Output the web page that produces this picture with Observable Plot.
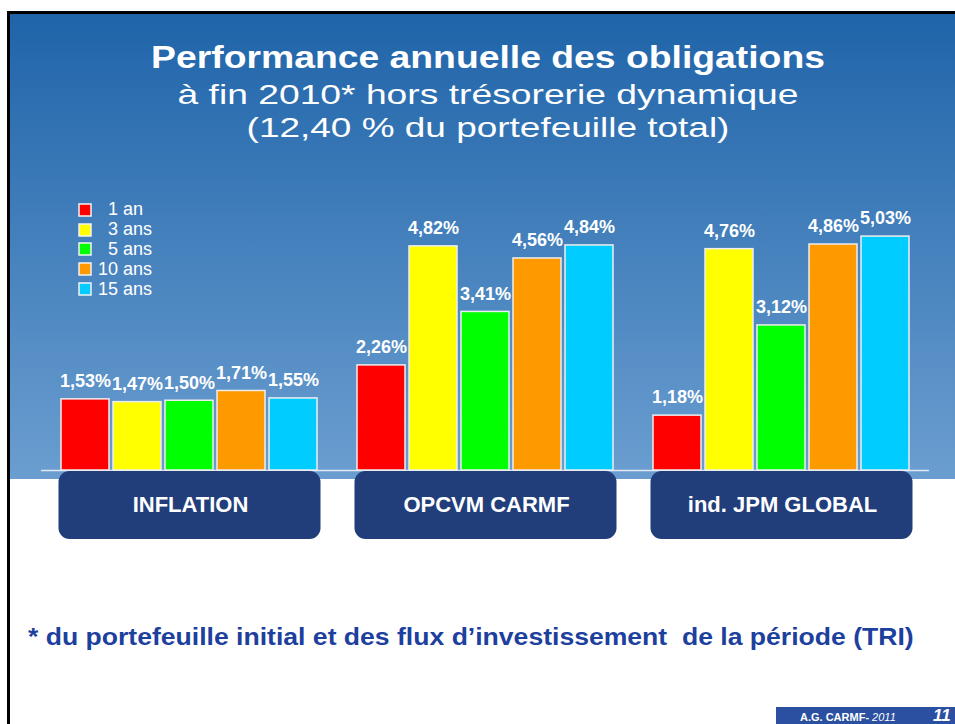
<!DOCTYPE html>
<html>
<head>
<meta charset="utf-8">
<script src="https://cdn.jsdelivr.net/npm/d3@7"></script>
<script src="https://cdn.jsdelivr.net/npm/@observablehq/plot@0.6"></script>
<style>
  html, body { margin: 0; padding: 0; background: #fff; }
  #slide { position: relative; width: 955px; height: 724px; overflow: hidden; background: #fff;
           font-family: "Liberation Sans", Arial, sans-serif; }
  #border { position: absolute; left: 7px; top: 11px; width: 960px; height: 720px;
            border-top: 3px solid #000; border-left: 3px solid #000; }
  #panel { position: absolute; left: 10px; top: 14px; width: 945px; height: 465px;
           background: linear-gradient(#1f64a9, #6b9ed0); }
  #chart { position: absolute; left: 0; top: 0; }
  .tl { position: absolute; left: 488px; white-space: nowrap; color: #fff; line-height: 1; }
  #t1 { top: 41px; font-size: 32px; font-weight: bold; transform: translateX(-50%) scaleX(1.166); }
  #t2 { top: 81px; font-size: 28px; transform: translateX(-50%) scaleX(1.33); }
  #t3 { top: 114px; font-size: 28px; transform: translateX(-50%) scaleX(1.32); }
  #legend { position: absolute; left: 79px; top: 200px; }
  div.leg-swatches { font-family: "Liberation Sans", Arial, sans-serif !important; font-size: 18px !important;
                     color: #fff !important; margin: 0 !important; }
  div.leg-swatches div.leg-swatch { height: 19.8px; padding-bottom: 0 !important; }
  div.leg-swatches div.leg-swatch > svg { margin-right: 7px !important; }
  div.leg-swatches div.leg-swatch svg rect { stroke: #f2f2f2; stroke-width: 1.5px; }
  #foot { position: absolute; left: 28px; top: 626px; white-space: pre; font-size: 23px; font-weight: bold;
          color: #1d3f9e; line-height: 1; transform-origin: 0 0; transform: scaleX(1.155); }
  #pager { position: absolute; left: 776px; top: 707px; width: 179px; height: 17px; background: #2b50a1;
           overflow: hidden; color: #fff; }
  #pager .a { position: absolute; left: 24px; top: 4px; font-size: 11px; font-weight: bold; white-space: nowrap; }
  #pager .a i { font-weight: normal; }
  #pager .n { position: absolute; left: 933px; left: 157px; top: 0px; font-size: 17px; font-weight: bold;
              font-style: italic; line-height: 17px; white-space: nowrap; }
</style>
</head>
<body>
<div id="slide">
  <div id="border"></div>
  <div id="panel"></div>
  <div id="chart"></div>
  <div class="tl" id="t1">Performance annuelle des obligations</div>
  <div class="tl" id="t2">à fin 2010* hors trésorerie dynamique</div>
  <div class="tl" id="t3">(12,40 % du portefeuille total)</div>
  <div id="legend"></div>
  <div id="foot">* du portefeuille initial et des flux d’investissement  de la période (TRI)</div>
  <div id="pager"><span class="a">A.G. CARMF- <i>2011</i></span><span class="n">11</span></div>
</div>
<script>
// ---- data ----
const categories = ["INFLATION", "OPCVM CARMF", "ind. JPM GLOBAL"];
const series = ["1 an", "3 ans", "5 ans", "10 ans", "15 ans"];
const inflation = [1.53, 1.47, 1.50, 1.71, 1.55];
const opcvmCarmf = [2.26, 4.82, 3.41, 4.56, 4.84];
const jpmGlobal = [1.18, 4.76, 3.12, 4.86, 5.03];
const colors = ["#ff0000", "#ffff00", "#00ff00", "#ff9900", "#00ccff"];

const valuesByCategory = [inflation, opcvmCarmf, jpmGlobal];
const data = categories.flatMap((cat, i) =>
  series.map((s, j) => ({cat, series: s, value: valuesByCategory[i][j]})));

const fmt = v => v.toFixed(2).replace(".", ",") + "%";
const lightLine = "#dfe8f2";
const halfBand = (929 - 40) / categories.length / 2;

const chart = Plot.plot({
  width: 955,
  height: 560,
  marginLeft: 40,
  marginRight: 26,
  marginTop: 180,
  marginBottom: 21,
  style: {background: "transparent", fontFamily: "Liberation Sans, Arial, sans-serif", overflow: "visible"},
  fx: {domain: categories, paddingInner: 0, paddingOuter: 0, axis: null, label: null},
  x: {domain: series, paddingInner: 0.0857, paddingOuter: 0.362, axis: null},
  y: {domain: [0, 6], range: [470, 191], axis: null},
  color: {domain: series, range: colors},
  marks: [
    Plot.ruleY([0], {stroke: lightLine, strokeWidth: 1.5}),
    Plot.ruleX(categories, {fx: d => d, y1: 0, y2: 0, insetBottom: -8, dx: -halfBand, stroke: lightLine, strokeWidth: 1.5}),
    Plot.ruleX(categories.slice(-1), {fx: d => d, y1: 0, y2: 0, insetBottom: -8, dx: halfBand, stroke: lightLine, strokeWidth: 1.5}),
    Plot.rect(categories, {fx: d => d, fill: "#213e7b", rx: 11, insetLeft: 17.5, insetRight: 16.5, insetTop: 291}),
    Plot.barY(data, {fx: "cat", x: "series", y: "value", fill: "series", stroke: "#eeeeee", strokeWidth: 1.5}),
    Plot.text(data, {fx: "cat", x: "series", y: "value", text: d => fmt(d.value), dy: -18,
      fill: "white", fontSize: 18, fontWeight: "bold"}),
    Plot.text(categories, {fx: d => d, text: d => d, frameAnchor: "bottom", lineAnchor: "middle", dy: -35, dx: 1,
      fill: "white", fontSize: 22, fontWeight: "bold"})
  ]
});
document.getElementById("chart").appendChild(chart);

const legend = Plot.legend({
  color: {domain: series, range: colors},
  legend: "swatches",
  columns: 1,
  swatchSize: 12,
  className: "leg",
  tickFormat: d => (d.split(" ")[0].length < 2 ? "\u2007" : "") + d
});
document.getElementById("legend").appendChild(legend);
</script>
</body>
</html>
